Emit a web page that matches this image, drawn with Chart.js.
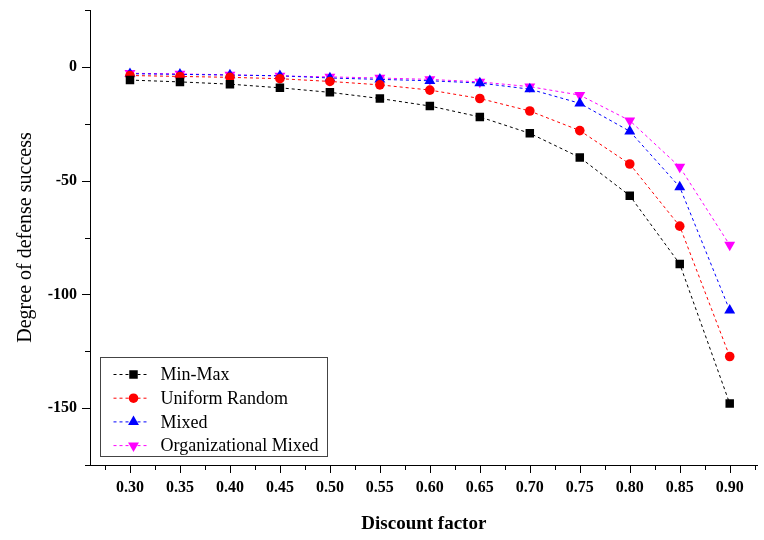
<!DOCTYPE html>
<html>
<head>
<meta charset="utf-8">
<script src="https://cdn.jsdelivr.net/npm/chart.js@4"></script>
<style>
  body { margin: 0; background: #fff; }
  #wrap { width: 764px; height: 540px; }
</style>
</head>
<body>
<div id="wrap"><canvas id="chart"></canvas></div>
<script>
// data
const discount = [0.30, 0.35, 0.40, 0.45, 0.50, 0.55, 0.60, 0.65, 0.70, 0.75, 0.80, 0.85, 0.90];
const minMax = [-5.8, -6.6, -7.6, -9.2, -11.2, -13.9, -17.2, -22, -29.2, -39.8, -56.6, -86.6, -148];
const uniformRandom = [-3.8, -4.2, -4.6, -5.2, -6.4, -7.9, -10.2, -13.9, -19.4, -28, -42.7, -70, -127.3];
const mixed = [-3.0, -3.3, -3.6, -3.9, -4.9, -5.5, -6.1, -7.1, -9.8, -16, -28.3, -52.8, -107];
const orgMixed = [-2.8, -3.1, -3.5, -4.0, -4.4, -4.9, -5.5, -6.6, -8.7, -12.4, -23.6, -44, -78.3];

const xTicks = [0.30, 0.35, 0.40, 0.45, 0.50, 0.55, 0.60, 0.65, 0.70, 0.75, 0.80, 0.85, 0.90];
const xMinor = [0.275, 0.325, 0.375, 0.425, 0.475, 0.525, 0.575, 0.625, 0.675, 0.725, 0.775, 0.825, 0.875, 0.925];
const yTicks = [0, -50, -100, -150];
const yMinor = [25, -25, -75, -125, -175];

const serif = "'Liberation Serif', 'DejaVu Serif', serif";

function pts(arr) {
  return discount.map((x, i) => ({ x: x, y: arr[i] }));
}

function series(label, arr, color, style, rot, radius) {
  return {
    label: label,
    data: pts(arr),
    borderColor: color,
    backgroundColor: color,
    borderWidth: 1,
    borderDash: [3, 3],
    pointStyle: style,
    rotation: rot,
    pointRadius: radius,
    pointBorderWidth: 0,
    tension: 0
  };
}

// minor + major tick marks (different lengths) and the legend box
const axisExtras = {
  id: "axisExtras",
  afterDraw(chart) {
    const ctx = chart.ctx;
    const xs = chart.scales.x;
    const ys = chart.scales.y;
    const area = chart.chartArea;
    ctx.save();
    ctx.strokeStyle = "#000";
    ctx.lineWidth = 1;
    ctx.beginPath();
    xTicks.forEach(v => {
      const px = Math.round(xs.getPixelForValue(v)) + 0.5;
      ctx.moveTo(px, area.bottom); ctx.lineTo(px, area.bottom + 8);
    });
    xMinor.forEach(v => {
      const px = Math.round(xs.getPixelForValue(v)) + 0.5;
      ctx.moveTo(px, area.bottom); ctx.lineTo(px, area.bottom + 5);
    });
    yTicks.forEach(v => {
      const py = Math.round(ys.getPixelForValue(v)) + 0.5;
      ctx.moveTo(area.left, py); ctx.lineTo(area.left - 8, py);
    });
    yMinor.forEach(v => {
      const py = Math.round(ys.getPixelForValue(v)) + 0.5;
      ctx.moveTo(area.left, py); ctx.lineTo(area.left - 5, py);
    });
    ctx.stroke();

    // legend
    const bx = area.left + 10.5, bw = 227, bh = 99;
    const by = area.bottom - 8.5 - bh;
    ctx.strokeStyle = "#444";
    ctx.strokeRect(bx, by, bw, bh);
    ctx.font = "18px " + serif;
    ctx.textBaseline = "middle";
    ctx.fillStyle = "#000";
    chart.data.datasets.forEach((ds, i) => {
      const ry = by + 17 + i * 23.7;
      ctx.save();
      ctx.strokeStyle = ds.borderColor;
      ctx.setLineDash([3, 3]);
      ctx.beginPath();
      ctx.moveTo(bx + 13, ry); ctx.lineTo(bx + 46, ry);
      ctx.stroke();
      ctx.restore();
      ctx.fillStyle = ds.backgroundColor;
      Chart.helpers.drawPoint(ctx, {
        pointStyle: ds.pointStyle, rotation: ds.rotation, radius: ds.pointRadius, borderWidth: 0
      }, bx + 33, ry);
      ctx.fillStyle = "#000";
      ctx.fillText(ds.label, bx + 60, ry + 1);
    });
    ctx.restore();
  }
};

new Chart(document.getElementById("chart"), {
  type: "line",
  data: {
    datasets: [
      series("Min-Max", minMax, "#000000", "rect", 0, 6),
      series("Uniform Random", uniformRandom, "#ff0000", "circle", 0, 4.8),
      series("Mixed", mixed, "#0000ff", "triangle", 0, 6.3),
      series("Organizational Mixed", orgMixed, "#ff00ff", "triangle", 180, 6.3)
    ]
  },
  options: {
    responsive: true,
    maintainAspectRatio: false,
    animation: false,
    layout: { padding: { top: 10, right: 0, left: 0, bottom: 0 } },
    plugins: {
      legend: { display: false },
      tooltip: { enabled: false }
    },
    scales: {
      x: {
        type: "linear",
        min: 0.26,
        max: 0.928,
        afterBuildTicks: s => { s.ticks = xTicks.map(v => ({ value: v })); },
        afterFit: s => { s.height = 75; s.paddingLeft = 0; s.paddingRight = 0; },
        grid: { display: false, tickLength: 8 },
        border: { display: true, color: "#000", width: 1 },
        ticks: {
          padding: 5,
          color: "#000",
          maxRotation: 0,
          autoSkip: false,
          font: { family: serif, size: 16, weight: "bold" },
          callback: v => v.toFixed(2)
        },
        title: {
          display: true,
          text: "Discount factor",
          color: "#000",
          font: { family: serif, size: 19, weight: "bold" },
          padding: { top: 0, bottom: 5 }
        }
      },
      y: {
        min: -175,
        max: 25,
        afterBuildTicks: s => { s.ticks = yTicks.map(v => ({ value: v })); },
        afterFit: s => { s.width = 90; s.paddingTop = 0; s.paddingBottom = 0; },
        grid: { display: false, tickLength: 8 },
        border: { display: true, color: "#000", width: 1 },
        ticks: {
          padding: 5,
          color: "#000",
          font: { family: serif, size: 16, weight: "bold" }
        },
        title: {
          display: true,
          text: "Degree of defense success",
          color: "#000",
          font: { family: serif, size: 20 },
          padding: { top: 14, bottom: 14 }
        }
      }
    }
  },
  plugins: [axisExtras]
});
</script>
</body>
</html>
